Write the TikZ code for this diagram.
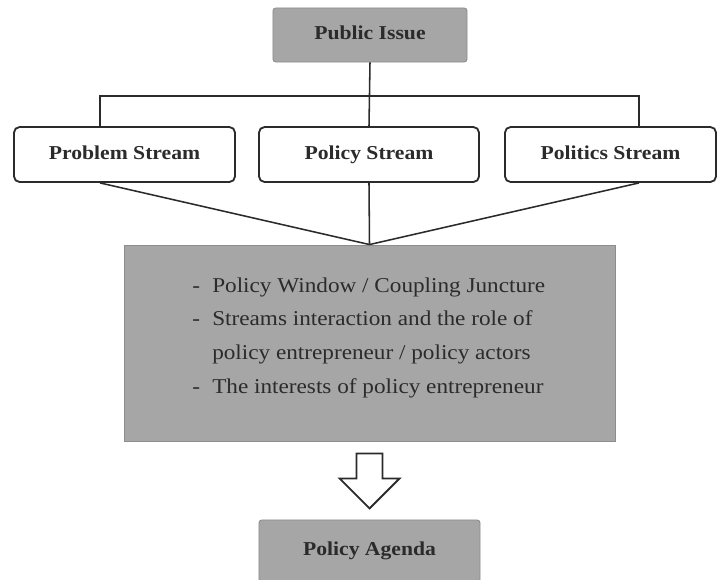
\documentclass[tikz,border=0pt]{standalone}
\usepackage{fontspec}
\setmainfont[FakeStretch=1.1]{Liberation Serif}
\usetikzlibrary{calc}

\definecolor{boxgray}{HTML}{A6A6A6}
\definecolor{ink}{HTML}{2B2B2B}

\tikzset{
  graybox/.style={fill=boxgray, draw=boxgray!85!black, line width=0.6, rounded corners=2, inner sep=0, text height=0.75em, text depth=0.05em, text=ink, font=\fontsize{14}{17}\selectfont\bfseries},
  streambox/.style={fill=white, draw=ink, line width=1.3, rounded corners=4, inner sep=0, minimum height=1.375cm, text height=0.75em, text depth=0.05em, text=ink, font=\fontsize{14}{17}\selectfont\bfseries},
  link/.style={draw=ink, line width=1.1}
}

\begin{document}
\begin{tikzpicture}[x=0.025cm, y=-0.025cm]
  \useasboundingbox (0,0) rectangle (717,579);

  % Top
  \node[graybox, minimum width=4.85cm, minimum height=1.35cm] (pub) at (370,35) {Public Issue};

  % Streams
  \node[streambox, minimum width=5.525cm] (prob) at (124.5,154.5) {Problem Stream};
  \node[streambox, minimum width=5.5cm] (pol) at (369,154.5) {Policy Stream};
  \node[streambox, minimum width=5.275cm] (polit) at (610.5,154.5) {Politics Stream};

  \coordinate (jl) at (100,96);
  \coordinate (jr) at (639,96);
  \draw[link] (pub.south) -- (pol.north);
  \draw[link] (prob.north -| jl) -- (jl) -- (jr) -- (polit.north -| jr);

  % Window
  \node[graybox, rounded corners=0, minimum width=12.275cm, minimum height=4.9cm] (win) at (369.5,343) {};
  \node[anchor=west, inner sep=0, text=ink, font=\fontsize{15}{24}\selectfont] (wintxt) at (192,336) {%
    \begin{tabular}{@{}p{0.5cm}@{}l@{}}
      - & Policy Window / Coupling Juncture\\
      - & Streams interaction and the role of\\
        & policy entrepreneur / policy actors\\
      - & The interests of policy entrepreneur
    \end{tabular}};

  \draw[link] (prob.south -| jl) -- (win.north);
  \draw[link] (pol.south) -- (win.north);
  \draw[link] (polit.south -| jr) -- (win.north);

  % Arrow
  \coordinate (arr) at ($(win.south)+(0,12)$);
  \draw[fill=white, draw=ink, line width=1.3] (arr) ++(-13,0) -- ++(26,0) -- ++(0,25) -- ++(17,0)
    -- ++(-30,30) -- ++(-30,-30) -- ++(17,0) -- cycle;

  % Bottom
  \node[graybox, minimum width=5.525cm, minimum height=1.55cm] (agenda) at (369.5,551) {Policy Agenda};
\end{tikzpicture}
\end{document}
